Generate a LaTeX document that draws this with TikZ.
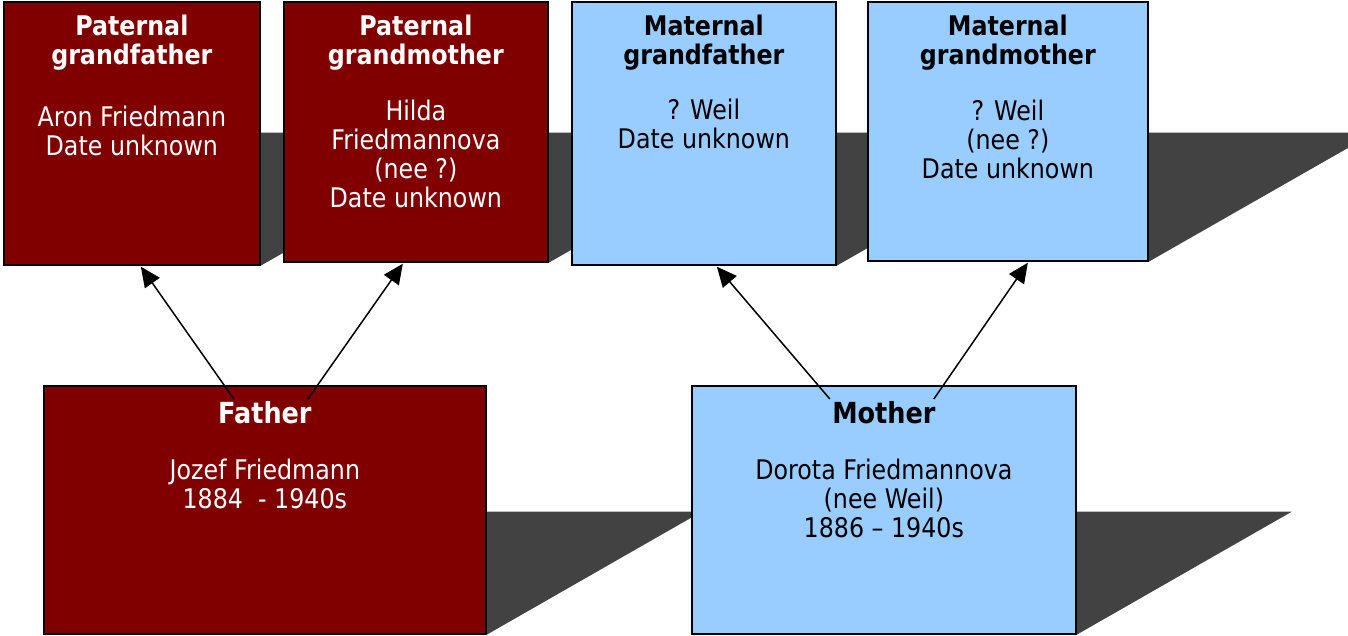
\documentclass[tikz,border=0pt]{standalone}
\usepackage{fontspec}
\setmainfont{DejaVu Sans}[FakeStretch=0.88]
\usetikzlibrary{arrows.meta,backgrounds}
\definecolor{pred}{HTML}{800000}
\definecolor{mblue}{HTML}{99CCFF}
\definecolor{shad}{HTML}{424242}
\begin{document}
\begin{tikzpicture}[x=1pt,y=1pt,
  box/.style={draw=black,line width=1.7pt,anchor=north west,inner sep=0pt},
  pbox/.style={box,fill=pred},
  mbox/.style={box,fill=mblue},
  txt/.style={align=center,anchor=north,inner sep=0pt,font=\fontsize{27}{29}\selectfont},
  wtxt/.style={txt,text=white},
  btxt/.style={txt,text=black},
  shadowfill/.style={fill=shad},
  arr/.style={line width=1.5pt,-{Triangle[length=20pt,width=18pt]}}]
\clip (0,0) rectangle (1348,-636);
\useasboundingbox (0,0) rectangle (1348,-636);
% boxes
\node[pbox,minimum width=256,minimum height=263] (pgf) at (3,-1) {};
\node[pbox,minimum width=264,minimum height=260] (pgm) at (283,-1) {};
\node[mbox,minimum width=264,minimum height=263] (mgf) at (571,-1) {};
\node[mbox,minimum width=280,minimum height=259] (mgm) at (867,-1) {};
\node[pbox,minimum width=442,minimum height=248] (father) at (43,-385) {};
\node[mbox,minimum width=384,minimum height=248] (mother) at (691,-385) {};
% shadows
\begin{scope}[on background layer]
\fill[shadowfill] (pgf.south east) -- ++(233,133) -- ++(-233,0) -- cycle;
\fill[shadowfill] (pgm.south east) -- ++(228,130) -- ++(-228,0) -- cycle;
\fill[shadowfill] (mgf.south east) -- ++(233,133) -- ++(-233,0) -- cycle;
\fill[shadowfill] (mgm.south east) -- ++(226,129) -- ++(-226,0) -- cycle;
\fill[shadowfill] (father.south east) -- ++(215,123) -- ++(-215,0) -- cycle;
\fill[shadowfill] (mother.south east) -- ++(215,123) -- ++(-215,0) -- cycle;
\end{scope}
% texts
\node[wtxt] (pgft) at ([yshift=-14]pgf.north) {\textbf{Paternal}\\\textbf{grandfather}\\[33pt]Aron Friedmann\\Date unknown};
\node[wtxt] (pgmt) at ([yshift=-14]pgm.north) {\textbf{Paternal}\\\textbf{grandmother}\\[27pt]Hilda\\Friedmannova\\(nee ?)\\Date unknown};
\node[btxt] (mgft) at ([yshift=-14]mgf.north) {\textbf{Maternal}\\\textbf{grandfather}\\[26pt]? Weil\\Date unknown};
\node[btxt] (mgmt) at ([yshift=-14]mgm.north) {\textbf{Maternal}\\\textbf{grandmother}\\[27pt]? Weil\\(nee ?)\\Date unknown};
\node[wtxt] (fathert) at ([yshift=-16]father.north) {{\fontsize{29}{29}\selectfont\bfseries Father}\\[27pt]Jozef Friedmann\\1884\ \ - 1940s};
\node[btxt] (mothert) at ([yshift=-16]mother.north) {{\fontsize{29}{29}\selectfont\bfseries Mother}\\[27pt]Dorota Friedmannova\\(nee Weil)\\1886 – 1940s};
% arrows
\draw[arr] ([xshift=-31,yshift=-14]father.north) -- ([xshift=9,yshift=-1]pgf.south);
\draw[arr] ([xshift=43,yshift=-14]father.north) -- ([xshift=-13,yshift=-1]pgm.south);
\draw[arr] ([xshift=-54,yshift=-14]mother.north) -- ([xshift=13,yshift=-1]mgf.south);
\draw[arr] ([xshift=50,yshift=-14]mother.north) -- ([xshift=20,yshift=-1]mgm.south);
\end{tikzpicture}
\end{document}
